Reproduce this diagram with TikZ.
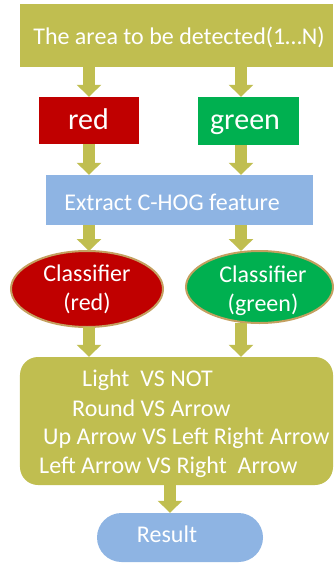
\documentclass[tikz,border=0pt]{standalone}
\usepackage{fontspec}
\setmainfont{Carlito}
\usetikzlibrary{arrows.meta,shapes.geometric,calc}
\definecolor{olive}{RGB}{192,190,80}
\definecolor{boxred}{RGB}{192,0,0}
\definecolor{boxgreen}{RGB}{0,176,80}
\definecolor{boxblue}{RGB}{142,180,227}
\definecolor{rimtan}{RGB}{196,160,96}
\tikzset{
  bigarrow/.style={draw=olive, line width=12bp, line cap=butt,
    -{Triangle[width=24bp,length=12bp]}},
  boxshape/.style={rectangle, inner sep=0pt, draw=none},
  txt/.style={text=white, font=\fontsize{24bp}{29bp}\selectfont, inner sep=0pt},
  bigtxt/.style={text=white, font=\fontsize{30bp}{36bp}\selectfont, inner sep=0pt, anchor=base},
  ellshape/.style={ellipse, inner sep=0pt, draw=rimtan, line width=2bp}
}
\begin{document}
\begin{tikzpicture}[x=1bp,y=-1bp]
\useasboundingbox (0,0) rectangle (333,563);
% columns
\coordinate (colL) at (89,0);
\coordinate (colR) at (241,0);
\coordinate (colM) at (170,0);
% nodes
\node[boxshape, fill=olive, minimum width=313bp, minimum height=63bp] (top) at (176.5,35.5) {};
\node[txt] (toptxt) at (179,37) {The area to be detected(1…N)};
\node[boxshape, fill=boxred, minimum width=100bp, minimum height=47bp] (red) at (89,120.5) {};
\node[bigtxt] (redtxt) at (88.5,129.5) {red};
\node[boxshape, fill=boxgreen, minimum width=101bp, minimum height=48bp] (green) at (248.5,121) {};
\node[bigtxt] (greentxt) at (245,129.5) {green};
\node[boxshape, fill=boxblue, minimum width=267bp, minimum height=50bp] (hog) at (179.5,200) {};
\node[txt] (hogtxt) at (172,202) {Extract C-HOG feature};
\node[ellshape, fill=boxred, minimum width=152bp, minimum height=76bp] (ellL) at (87,289) {};
\node[txt, align=center] (ellLtxt) at (87,289) {Classifier\\(red)};
\node[ellshape, fill=boxgreen, minimum width=147bp, minimum height=72bp] (ellR) at (259.5,287) {};
\node[txt, align=center] (ellRtxt) at (263,291) {Classifier\\(green)};
\node[boxshape, fill=olive, rounded corners=18bp, minimum width=313bp, minimum height=128bp] (rules) at (176.5,421) {};
\node[txt, anchor=west] (r1) at (82,380) {Light\ \ VS NOT};
\node[txt, anchor=west] (r2) at (72,408) {Round VS Arrow};
\node[txt, anchor=west] (r3) at (43,438) {Up Arrow VS Left Right Arrow};
\node[txt, anchor=west] (r4) at (39,467) {Left Arrow VS Right\ \ Arrow};
\node[boxshape, fill=boxblue, rounded corners=24.5bp, minimum width=166bp, minimum height=49bp] (result) at (180,537.5) {};
\node[txt] (resulttxt) at (167,534) {Result};
% connectors
\draw[bigarrow] (top.south -| colL) -- (red.north -| colL);
\draw[bigarrow] (top.south -| colR) -- (green.north -| colR);
\draw[bigarrow] (red.south -| colL) -- (hog.north -| colL);
\draw[bigarrow] (green.south -| colR) -- (hog.north -| colR);
\draw[bigarrow] (hog.south -| colL) -- ($(ellL.north -| colL)+(0,1)$);
\draw[bigarrow] (hog.south -| colR) -- ($(ellR.north -| colR)+(0,1)$);
\draw[bigarrow] ($(ellL.south -| colL)+(0,-1)$) -- (rules.north -| colL);
\draw[bigarrow] ($(ellR.south -| colR)+(0,-1)$) -- (rules.north -| colR);
\draw[bigarrow] (rules.south -| colM) -- (result.north -| colM);
\end{tikzpicture}
\end{document}
